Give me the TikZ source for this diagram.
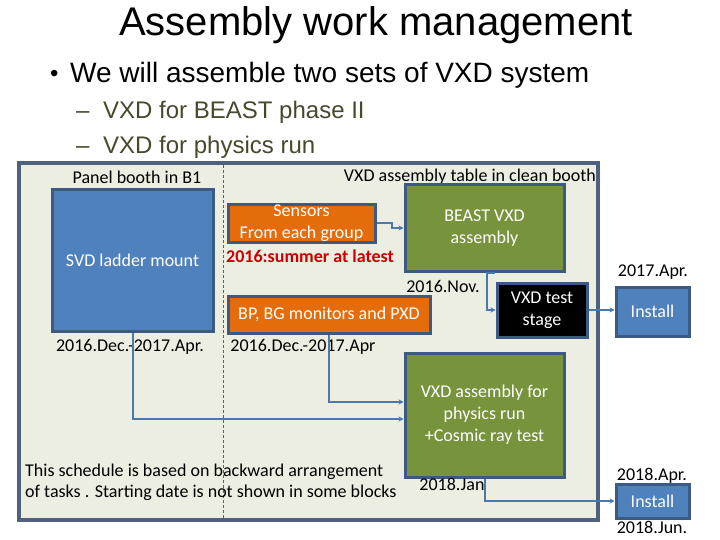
\documentclass[tikz,border=0pt]{standalone}
\usepackage{fontspec}
\setmainfont{Carlito}
\newfontfamily\arialf{Liberation Sans}
\usetikzlibrary{arrows.meta}
\definecolor{panelfill}{RGB}{235,238,224}
\definecolor{panelline}{RGB}{79,98,125}
\definecolor{boxline}{RGB}{60,90,130}
\definecolor{officeblue}{RGB}{79,129,189}
\definecolor{orangebox}{RGB}{228,108,10}
\definecolor{greenbox}{RGB}{119,147,60}
\definecolor{redtext}{RGB}{204,0,0}
\definecolor{subcol}{RGB}{72,72,45}
\definecolor{conncol}{RGB}{74,120,175}
\tikzset{
  box/.style={draw=boxline, line width=3pt, text=white, align=center, inner sep=0pt, font=\fontsize{18}{22}\selectfont},
  bluebox/.style={box, fill=officeblue},
  orangebox/.style={box, fill=orangebox},
  greenbox/.style={box, fill=greenbox},
  blackbox/.style={box, fill=black},
  lbl/.style={inner sep=0pt, text=black, font=\fontsize{18}{21}\selectfont},
  conn/.style={draw=conncol, line width=2pt, -{Stealth[length=5pt,width=5pt]}},
}
\begin{document}
\begin{tikzpicture}[x=1pt,y=-1pt]
\useasboundingbox (0,0) rectangle (720,540);
% title and bullets
\node[anchor=base, inner sep=0pt, font=\arialf\fontsize{40}{44}\selectfont] (title) at (376,36) {Assembly work management};
\node[anchor=base west, inner sep=0pt, font=\arialf\fontsize{24}{32}\selectfont] (b1) at (50,82) {•};
\node[anchor=base west, inner sep=0pt, font=\arialf\fontsize{28}{32}\selectfont] (t1) at (70,83) {We will assemble two sets of VXD system};
\node[anchor=base west, inner sep=0pt, text=subcol, font=\arialf\fontsize{24}{28}\selectfont] (d1) at (76,119) {–};
\node[anchor=base west, inner sep=0pt, text=subcol, font=\arialf\fontsize{24}{28}\selectfont] (t2) at (103,119) {VXD for BEAST phase II};
\node[anchor=base west, inner sep=0pt, text=subcol, font=\arialf\fontsize{24}{28}\selectfont] (d2) at (76,154) {–};
\node[anchor=base west, inner sep=0pt, text=subcol, font=\arialf\fontsize{24}{28}\selectfont] (t3) at (103,154) {VXD for physics run};
% panel
\draw[panelline, fill=panelfill, line width=3.5pt] (19,163) rectangle (598,520);
\draw[panelline, line width=0.7pt, dash pattern=on 3pt off 2pt] (223,165) -- (223,518);
% headers
\node[lbl] (h1) at (137,177) {Panel booth in B1};
\node[lbl] (h2) at (470,177) {VXD assembly table in clean booth};
% boxes
\node[bluebox, minimum width=161pt, minimum height=141pt] (svd) at (132.5,260.5) {SVD ladder mount};
\node[orangebox, minimum width=147pt, minimum height=37pt] (sens) at (301.5,223.5) {Sensors\\From each group};
\node[greenbox, minimum width=159pt, minimum height=86pt] (beast) at (484.5,228) {BEAST VXD\\assembly};
\node[blackbox, minimum width=90pt, minimum height=54pt] (test) at (542,310) {VXD test\\stage};
\node[bluebox, minimum width=73pt, minimum height=49pt] (inst1) at (652.5,311.5) {Install};
\node[orangebox, minimum width=202pt, minimum height=37pt] (bp) at (329,314.5) {BP, BG monitors and PXD};
\node[greenbox, minimum width=159pt, minimum height=124pt] (phys) at (484.5,415) {VXD assembly for\\physics run\\+Cosmic ray test};
\node[bluebox, minimum width=73pt, minimum height=34pt] (inst2) at (652.5,501) {Install};
% labels
\node[lbl, text=redtext, font=\bfseries\fontsize{18}{21}\selectfont] (red) at (310,256) {2016:summer at latest};
\node[lbl] (l1) at (130,347) {2016.Dec.-2017.Apr.};
\node[lbl] (l2) at (303,347) {2016.Dec.-2017.Apr};
\node[lbl] (l3) at (443,286) {2016.Nov.};
\node[lbl] (l4) at (653,272) {2017.Apr.};
\node[lbl] (l5) at (452,484) {2018.Jan};
\node[lbl] (l6) at (652,476) {2018.Apr.};
\node[lbl] (l7) at (652,527) {2018.Jun.};
\node[lbl, anchor=west, align=left] (note) at (25,482.5) {This schedule is based on backward arrangement\\of tasks . Starting date is not shown in some blocks};
% connectors
\draw[conn] (svd.south) |- ([yshift=-4pt]phys.west);
\draw[conn] (bp.south) |- ([yshift=13pt]phys.west);
\draw[conn] (sens.east) -- ++(15pt,0pt) |- (beast.west);
\draw[conn] ([xshift=10pt]beast.south) -- ([xshift=2.5pt]beast.south) |- (test.west);
\draw[conn] (test.east) -- (inst1.west |- test.east);
\draw[conn] (phys.south) |- (inst2.west);
\end{tikzpicture}
\end{document}
